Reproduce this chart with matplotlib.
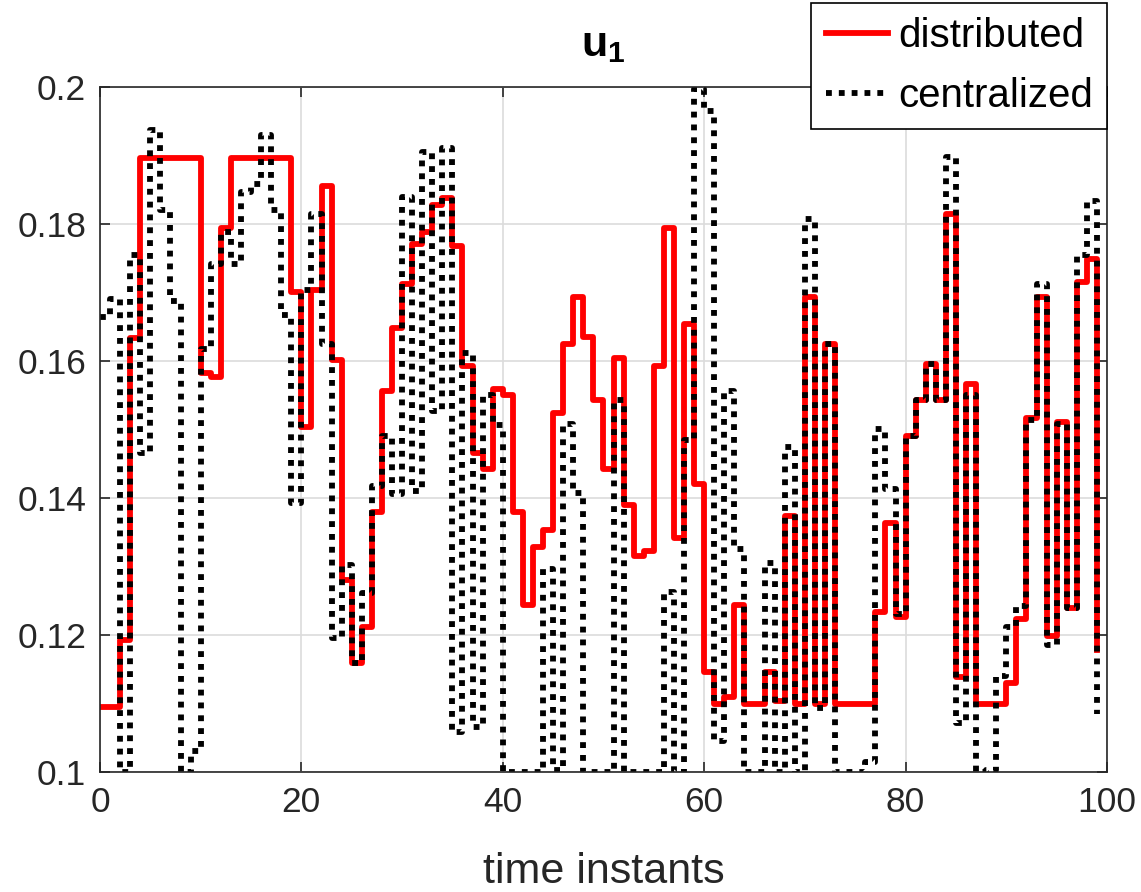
import numpy as np
import matplotlib
matplotlib.use('Agg')
import matplotlib.pyplot as plt

plt.rcParams['font.family'] = ['Liberation Sans', 'DejaVu Sans']
plt.rcParams['mathtext.fontset'] = 'custom'
plt.rcParams['mathtext.rm'] = 'Liberation Sans'
plt.rcParams['mathtext.bf'] = 'Liberation Sans:bold'

# time instants 0..99
t = np.arange(100)

distributed = [
    0.1095, 0.1095, 0.1192, 0.1633, 0.1896, 0.1896, 0.1896, 0.1896, 0.1896, 0.1896,
    0.1582, 0.1576, 0.1794, 0.1896, 0.1896, 0.1896, 0.1896, 0.1896, 0.1896, 0.1700,
    0.1504, 0.1704, 0.1856, 0.1602, 0.1281, 0.1159, 0.1211, 0.1380, 0.1556, 0.1648,
    0.1713, 0.1771, 0.1788, 0.1827, 0.1838, 0.1768, 0.1592, 0.1465, 0.1442, 0.1559,
    0.1550, 0.1379, 0.1244, 0.1328, 0.1354, 0.1524, 0.1625, 0.1693, 0.1635, 0.1543,
    0.1442, 0.1605, 0.1390, 0.1315, 0.1322, 0.1592, 0.1794, 0.1341, 0.1654, 0.1420,
    0.1146, 0.1100, 0.1110, 0.1244, 0.1100, 0.1100, 0.1146, 0.1104, 0.1374, 0.1100,
    0.1693, 0.1100, 0.1625, 0.1100, 0.1100, 0.1100, 0.1100, 0.1234, 0.1364, 0.1227,
    0.1491, 0.1543, 0.1595, 0.1543, 0.1814, 0.1139, 0.1566, 0.1100, 0.1100, 0.1100,
    0.1130, 0.1224, 0.1517, 0.1693, 0.1198, 0.1511, 0.1240, 0.1716, 0.1749, 0.1178,
]

centralized = [
    0.1664, 0.1690, 0.1000, 0.1755, 0.1465, 0.1937, 0.1820, 0.1687, 0.1000, 0.1030,
    0.1618, 0.1742, 0.1788, 0.1742, 0.1847, 0.1858, 0.1930, 0.1820, 0.1667, 0.1393,
    0.1703, 0.1814, 0.1625, 0.1195, 0.1302, 0.1159, 0.1262, 0.1418, 0.1490, 0.1406,
    0.1840, 0.1410, 0.1905, 0.1527, 0.1911, 0.1058, 0.1612, 0.1065, 0.1550, 0.1507,
    0.1000, 0.1000, 0.1000, 0.1000, 0.1296, 0.1003, 0.1508, 0.1408, 0.1000, 0.1000,
    0.1000, 0.1543, 0.1000, 0.1000, 0.1000, 0.1000, 0.1263, 0.1000, 0.1485, 0.1997,
    0.1965, 0.1045, 0.1556, 0.1325, 0.1000, 0.1000, 0.1305, 0.1000, 0.1475, 0.1000,
    0.1807, 0.1094, 0.1625, 0.1000, 0.1000, 0.1000, 0.1015, 0.1501, 0.1413, 0.1230,
    0.1490, 0.1543, 0.1595, 0.1543, 0.1898, 0.1072, 0.1550, 0.1000, 0.1003, 0.1140,
    0.1212, 0.1242, 0.1514, 0.1713, 0.1185, 0.1508, 0.1240, 0.1755, 0.1833, 0.1084,
]

xticks = [0, 20, 40, 60, 80, 100]
yticks = [0.1, 0.12, 0.14, 0.16, 0.18, 0.2]
ytick_labels = ['0.1', '0.12', '0.14', '0.16', '0.18', '0.2']

fig = plt.figure(figsize=(11.41, 8.92), dpi=100)
ax = fig.add_axes([0.0876, 0.1345, 0.8826, 0.768])

ax.step(t, distributed, where='post', color='#ff0000', lw=4.2, label='distributed')
ax.step(t, centralized, where='post', color='black', lw=4.2,
        linestyle=(0, (1, 1.2)), label='centralized')

ax.set_xlim(0, 100)
ax.set_ylim(0.1, 0.2)
ax.set_xticks(xticks)
ax.set_yticks(yticks)
ax.set_yticklabels(ytick_labels)
ax.tick_params(direction='in', labelsize=25.5, length=7, width=1.2, colors='#262626',
               top=True, right=True)
ax.tick_params(axis='x', pad=10)
ax.tick_params(axis='y', pad=10)
for s in ax.spines.values():
    s.set_color('#262626')
    s.set_linewidth(1.2)
ax.grid(True, color='#dcdcdc', linewidth=1.2)
ax.set_axisbelow(True)

ax.set_xlabel('time instants', fontsize=31, color='#262626', labelpad=24)
ax.set_title(r'$\mathbf{u_1}$', fontsize=31, pad=22)

leg = ax.legend(loc='upper right', bbox_to_anchor=(1107 / 1141, 1 - 3 / 892),
                bbox_transform=fig.transFigure, fontsize=29, frameon=True,
                fancybox=False, edgecolor='black', framealpha=1,
                handlelength=1.55, handletextpad=0.25, borderpad=0.35,
                labelspacing=0.55, borderaxespad=0)
leg.get_frame().set_linewidth(1.2)

fig.savefig('out.png', dpi=100)
